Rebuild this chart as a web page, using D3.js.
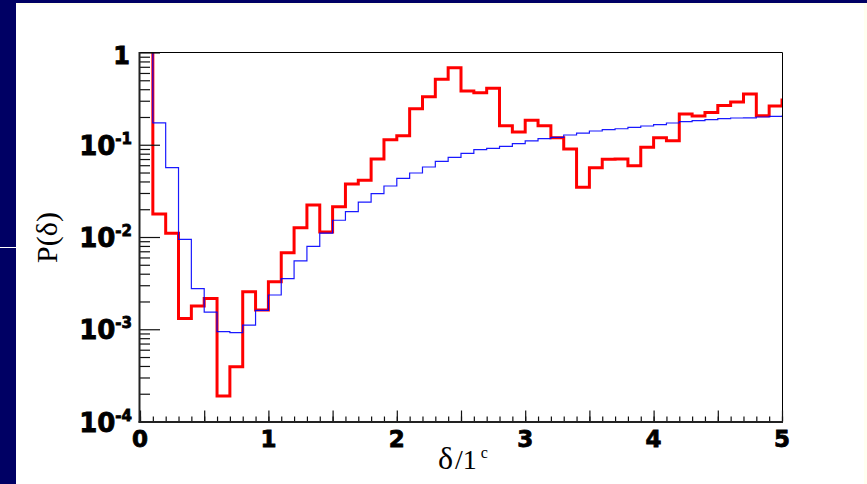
<!DOCTYPE html>
<html>
<head>
<meta charset="utf-8">
<script src="https://cdn.jsdelivr.net/npm/d3@7"></script>
<style>
  html, body { margin: 0; padding: 0; background: #000064; }
  svg { display: block; }
</style>
</head>
<body>
<svg id="chart" width="867" height="484"></svg>
<script>
// bin edges (width 0.1), last bin 5.0-5.1 sits just outside the frame
const binEdges = [0, 0.1, 0.2, 0.3, 0.4, 0.5, 0.6, 0.7, 0.8, 0.9,
    1.0, 1.1, 1.2, 1.3, 1.4, 1.5, 1.6, 1.7, 1.8, 1.9,
    2.0, 2.1, 2.2, 2.3, 2.4, 2.5, 2.6, 2.7, 2.8, 2.9,
    3.0, 3.1, 3.2, 3.3, 3.4, 3.5, 3.6, 3.7, 3.8, 3.9,
    4.0, 4.1, 4.2, 4.3, 4.4, 4.5, 4.6, 4.7, 4.8, 4.9, 5.0, 5.1];

// red histogram (thick)
const redValues = [5, 0.0177, 0.011, 0.00131, 0.00179, 0.00216, 0.000189, 0.000393, 0.00255, 0.00162,
    0.00328, 0.00676, 0.0126, 0.0222, 0.0113, 0.0213, 0.0375, 0.0411, 0.070, 0.1135,
    0.1255, 0.246, 0.332, 0.512, 0.684, 0.383, 0.367, 0.409, 0.161, 0.1375,
    0.184, 0.161, 0.119, 0.090, 0.0346, 0.0564, 0.0695, 0.070, 0.0593, 0.0938,
    0.119, 0.1107, 0.2156, 0.205, 0.223, 0.267, 0.290, 0.355, 0.2066, 0.263, 0.305];

// blue histogram (thin)
const blueValues = [5, 0.173, 0.0564, 0.00944, 0.00275, 0.00153, 0.000942, 0.000918, 0.00111, 0.0016,
    0.00235, 0.00353, 0.0055, 0.00793, 0.011, 0.0152, 0.0188, 0.0239, 0.0295, 0.0357,
    0.0432, 0.0494, 0.0574, 0.0661, 0.0731, 0.0807, 0.0885, 0.0915, 0.0962, 0.1028,
    0.11, 0.1164, 0.120, 0.1275, 0.134, 0.141, 0.1457, 0.149, 0.1545, 0.1597,
    0.165, 0.172, 0.178, 0.1825, 0.187, 0.1915, 0.195, 0.196, 0.200, 0.203, 0.205];

const xLabelTicks = [0, 1, 2, 3, 4, 5];
const xHalfTicks = [0, 0.5, 1, 1.5, 2, 2.5, 3, 3.5, 4, 4.5, 5];
const yDecades = [-4, -3, -2, -1, 0];

(() => {
    const svg = d3.select("#chart");

    // slide panel
    svg.append("rect").attr("x", 16).attr("y", 3).attr("width", 851).attr("height", 481).attr("fill", "#fffff0");
    svg.append("rect").attr("x", 16).attr("y", 5).attr("width", 848).attr("height", 479).attr("fill", "#ffffff");
    svg.append("line").attr("x1", 0).attr("x2", 16).attr("y1", 247.5).attr("y2", 247.5)
        .attr("stroke", "#ffffff").attr("stroke-width", 1);

    const pLeft = 140, pRight = 782, pTop = 52.5, pBottom = 421.5;

    const x = d3.scaleLinear().domain([0, 5]).range([pLeft, pRight]);
    const y = d3.scaleLog().domain([1e-4, 1]).range([pBottom, pTop]);

    svg.append("clipPath").attr("id", "plotclip")
        .append("rect").attr("x", pLeft + 1).attr("y", pTop).attr("width", pRight - pLeft).attr("height", pBottom - pTop);

    // histogram outline as steps (no left riser, it sits on the axis)
    function stepPoints(vals) {
        const pts = [];
        vals.forEach((v, i) => {
            pts.push([binEdges[i], v]);
            pts.push([binEdges[i + 1], v]);
        });
        pts.push([binEdges[vals.length], 1e-4]);
        return pts;
    }

    const line = d3.line().x(d => x(d[0])).y(d => y(d[1]));

    const plot = svg.append("g").attr("clip-path", "url(#plotclip)");
    plot.append("path").attr("d", line(stepPoints(redValues)))
        .attr("fill", "none").attr("stroke", "#ff0000").attr("stroke-width", 3);
    plot.append("path").attr("d", line(stepPoints(blueValues)))
        .attr("fill", "none").attr("stroke", "#0000ff").attr("stroke-width", 1.2).attr("stroke-opacity", 0.9);

    // frame (top / right thin)
    svg.append("path").attr("d", `M${pLeft},${pTop}H${pRight + 0.5}V${pBottom}`)
        .attr("fill", "none").attr("stroke", "#000").attr("stroke-width", 1);

    // y axis ticks, minor and major in their own groups
    const yMinor = [];
    yDecades.slice(0, -1).forEach(k => {
        for (let m = 2; m <= 9; m++) yMinor.push(m * Math.pow(10, k));
    });

    const gyMinor = svg.append("g").attr("transform", `translate(${pLeft},0)`)
        .call(d3.axisLeft(y).tickValues(yMinor).tickSizeInner(-10).tickSizeOuter(0).tickFormat(""));
    const gyMajor = svg.append("g").attr("transform", `translate(${pLeft},0)`)
        .call(d3.axisLeft(y).tickValues(yDecades.map(k => Math.pow(10, k)))
            .tickSizeInner(-20).tickSizeOuter(0).tickFormat(""));

    // x axis ticks
    const xMinor = binEdges.filter(v => v <= 5);
    const gxMinor = svg.append("g").attr("transform", `translate(0,${pBottom})`)
        .call(d3.axisBottom(x).tickValues(xMinor).tickSizeInner(-5).tickSizeOuter(0).tickFormat(""));
    const gxMajor = svg.append("g").attr("transform", `translate(0,${pBottom})`)
        .call(d3.axisBottom(x).tickValues(xHalfTicks).tickSizeInner(-11).tickSizeOuter(0).tickFormat(""));

    [gyMinor, gyMajor, gxMinor, gxMajor].forEach(g => {
        g.selectAll(".domain").remove();
        g.selectAll(".tick line").attr("stroke", "#111").attr("stroke-width", 1.2);
    });

    // axis lines (thicker left & bottom)
    svg.append("line").attr("x1", pLeft - 0.5).attr("x2", pLeft - 0.5).attr("y1", pTop - 0.5).attr("y2", pBottom + 1)
        .attr("stroke", "#222").attr("stroke-width", 2);
    svg.append("line").attr("x1", pLeft - 1.5).attr("x2", pRight + 1).attr("y1", pBottom + 0.5).attr("y2", pBottom + 0.5)
        .attr("stroke", "#222").attr("stroke-width", 2);

    // y tick labels with superscripts (slightly stroked: the original font is very heavy)
    const yLabels = svg.append("g")
        .attr("font-family", "'DejaVu Sans', sans-serif").attr("font-weight", "bold")
        .attr("fill", "#000").attr("stroke", "#000").attr("stroke-width", 0.8);
    yDecades.forEach(k => {
        const ty = y(Math.pow(10, k));
        if (k === 0) {
            yLabels.append("text").attr("x", 130).attr("y", ty + 11)
                .attr("text-anchor", "end").attr("font-size", 24).text("1");
        } else {
            const t = yLabels.append("text").attr("x", 132).attr("y", ty + 10)
                .attr("text-anchor", "end").attr("font-size", 26);
            t.append("tspan").text("10");
            t.append("tspan").attr("font-size", 15).attr("dy", -11).text(String(k));
        }
    });

    // x tick labels
    svg.append("g")
        .attr("font-family", "'DejaVu Sans', sans-serif").attr("font-weight", "bold")
        .attr("stroke", "#000").attr("stroke-width", 0.8)
        .attr("font-size", 23).attr("text-anchor", "middle")
        .selectAll("text").data(xLabelTicks).join("text")
        .attr("x", d => x(d)).attr("y", 447).text(d => d);

    // axis titles
    svg.append("text")
        .attr("transform", "translate(57,237.5) rotate(-90)")
        .attr("text-anchor", "middle")
        .attr("font-family", "'Liberation Serif', 'Times New Roman', serif")
        .attr("font-size", 30)
        .text("P(δ)");

    const xt = svg.append("text").attr("x", 438).attr("y", 469)
        .attr("font-family", "'Liberation Serif', 'Times New Roman', serif").attr("font-size", 28);
    xt.append("tspan").attr("font-size", 32).text("δ");
    xt.append("tspan").attr("dx", 2).text("/1");
    xt.append("tspan").attr("font-size", 16).attr("dx", 4).attr("dy", -11).text("c");
})();
</script>
</body>
</html>
